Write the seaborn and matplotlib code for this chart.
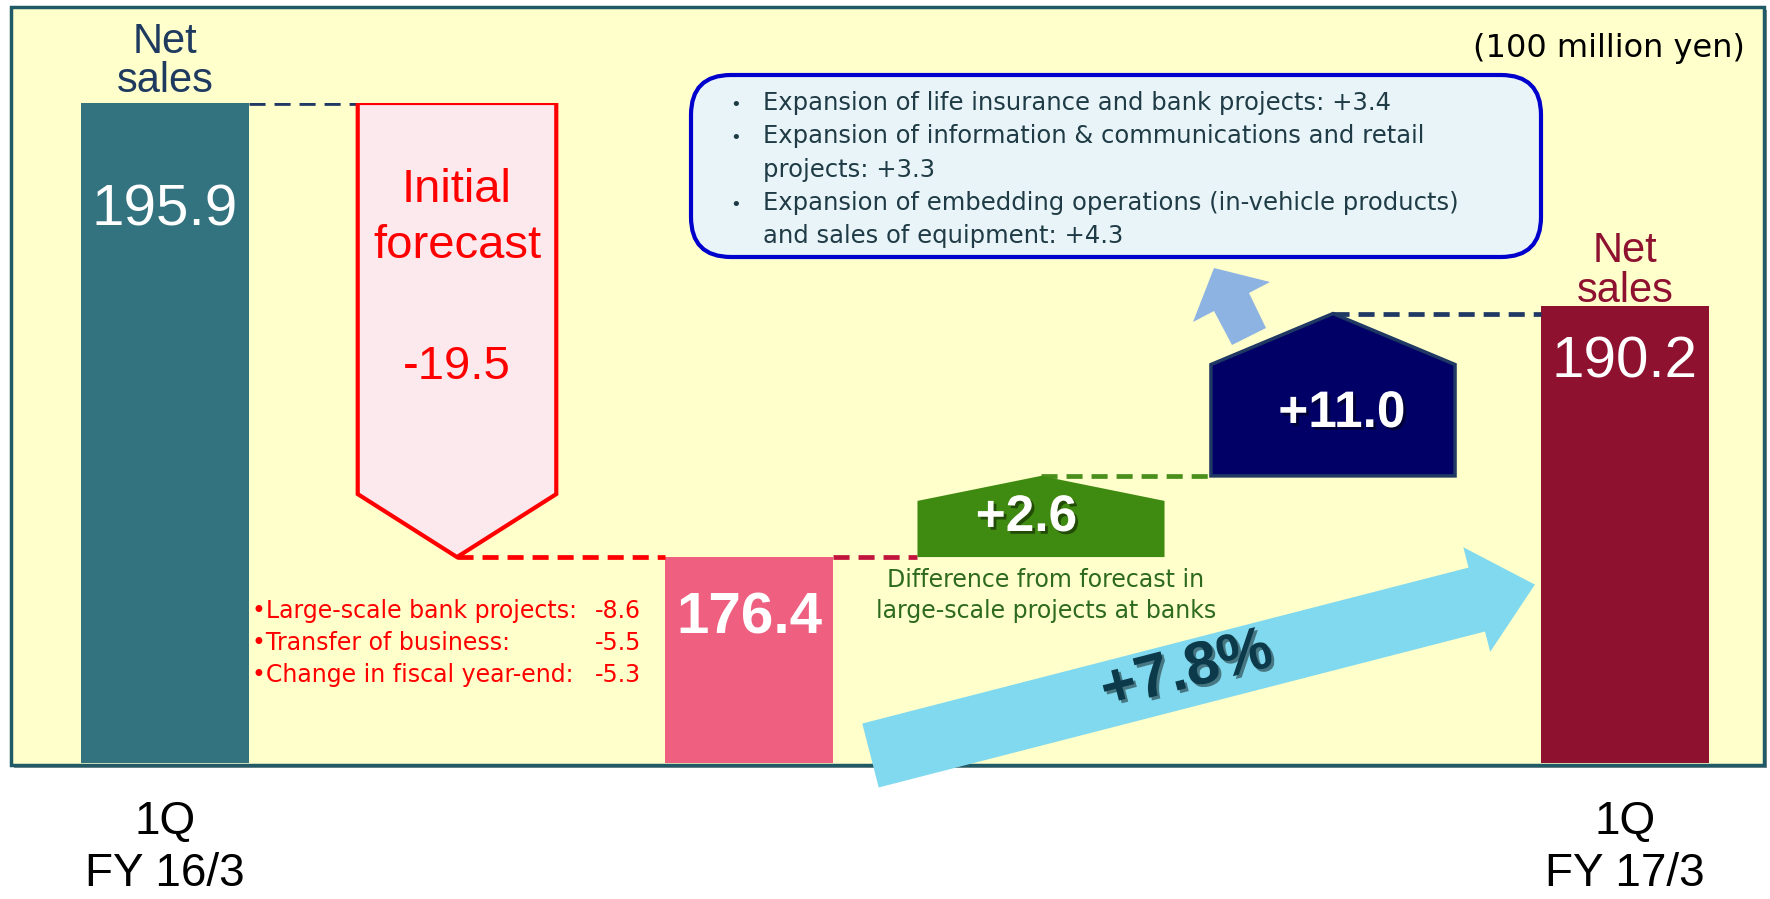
import numpy as np
import pandas as pd
import matplotlib
matplotlib.use("Agg")
import matplotlib.pyplot as plt
import seaborn as sns
from matplotlib.patches import Rectangle, Polygon, FancyBboxPatch
from matplotlib import transforms
import matplotlib.patheffects as pe

# ---------------- data ----------------
steps = ["1Q FY 16/3", "Initial forecast", "Revised", "Bank projects", "Expansion", "1Q FY 17/3"]
total_names = ["1Q FY 16/3", "Revised", "1Q FY 17/3"]
total_values = [195.9, 176.4, 190.2]
delta_names = ["Initial forecast", "Bank projects", "Expansion"]
delta_values = [-19.5, 2.6, 11.0]
period_labels = [["1Q", "FY 16/3"], ["1Q", "FY 17/3"]]
forecast_items = ["Large-scale bank projects:", "Transfer of business:", "Change in fiscal year-end:"]
forecast_values = [-8.6, -5.5, -5.3]
expansion_items = ["Expansion of life insurance and bank projects",
                   "Expansion of information & communications and retail\nprojects",
                   "Expansion of embedding operations (in-vehicle products)\nand sales of equipment"]
expansion_values = [3.4, 3.3, 4.3]
growth_pct = 7.8
unit_label = "(100 million yen)"
bank_note = ["Difference from forecast in", "large-scale projects at banks"]

# ---------------- style ----------------
sns.set_style("white")
plt.rcParams["font.family"] = ["Liberation Sans", "DejaVu Sans"]
WIDE = ["DejaVu Sans"]

W, H = 1770, 899
fig = plt.figure(figsize=(W / 100, H / 100), dpi=100)
fig.patch.set_facecolor("white")

# pixel (top-origin) -> figure transform
PX = transforms.Affine2D().scale(1 / W, -1 / H).translate(0, 1) + fig.transFigure

# panel background
fig.patches.append(Rectangle((14, 10), 1753, 758, transform=PX, facecolor="#7f8c8c",
                             edgecolor="none", zorder=-12))
fig.patches.append(Rectangle((11, 7), 1753, 758, transform=PX, facecolor="#ffffcc",
                             edgecolor="#1f5a66", linewidth=2.5, zorder=-10))

ax = fig.add_axes([11 / W, (H - 763) / H, 1753 / W, 660 / H])
ax.set_facecolor("none")

total_colors = {"1Q FY 16/3": "#33737f", "Revised": "#ee5f80", "1Q FY 17/3": "#8f1130"}
df = pd.DataFrame({"step": total_names, "value": total_values})
bar_w = 0.575
sns.barplot(data=df, x="step", y="value", order=steps, hue="step", palette=total_colors,
            width=bar_w, linewidth=0, saturation=1, legend=False, ax=ax)

# schematic (non-proportional) value axis, as in the original slide
VAL_ANCH = [0.0, 176.4, 179.0, 190.0, 195.9]
POS_ANCH = [0.0, 0.312, 0.435, 0.681, 1.0]
fwd = lambda v: np.interp(v, VAL_ANCH, POS_ANCH)
inv = lambda p: np.interp(p, POS_ANCH, VAL_ANCH)
ax.set_yscale("function", functions=(fwd, inv))
ax.set_ylim(0, 195.9)
ax.set_xlim(-(165 - 11) / 292, 5 + (1764 - 1625) / 292)
ax.axis("off")

BL = transforms.blended_transform_factory(ax.transData, PX)


def to_px_y(v):
    disp = ax.transData.transform((0, v))
    fy = fig.transFigure.inverted().transform(disp)[1]
    return H * (1 - fy)


pos = {s: i for i, s in enumerate(steps)}
levels = [total_values[0]]
for d in delta_values:
    levels.append(levels[-1] + d)

# forecast pentagon (down)
xf = pos["Initial forecast"]
wf = 0.68
top_px, tip_px = to_px_y(levels[0]), to_px_y(levels[1])
sh = tip_px - 63
ax.add_patch(Polygon([(xf - wf / 2, top_px), (xf + wf / 2, top_px), (xf + wf / 2, sh),
                      (xf, tip_px), (xf - wf / 2, sh)], closed=True, transform=BL,
                     facecolor="#fbe9ee", edgecolor="#ff0000", linewidth=3, zorder=3,
                     joinstyle="miter"))

# bank pentagon (up, green)
xb = pos["Bank projects"]
wb = 0.846
base_px, apex_px = to_px_y(levels[1]), to_px_y(levels[2])
sh = apex_px + 25
ax.add_patch(Polygon([(xb - wb / 2, base_px), (xb + wb / 2, base_px), (xb + wb / 2, sh),
                      (xb, apex_px), (xb - wb / 2, sh)], closed=True, transform=BL,
                     facecolor="#3f8a10", edgecolor="none", zorder=3))

# expansion pentagon (up, navy)
xe = pos["Expansion"]
we = 0.836
base_px, apex_px = to_px_y(levels[2]), to_px_y(levels[3])
sh = apex_px + 51
ax.add_patch(Polygon([(xe - we / 2, base_px), (xe + we / 2, base_px), (xe + we / 2, sh),
                      (xe, apex_px), (xe - we / 2, sh)], closed=True, transform=BL,
                     facecolor="#000066", edgecolor="#1f3864", linewidth=2.5, zorder=3))

# connectors
dash = (0, (3.4, 1.9))
lwc = 3.4
ax.plot([0 + bar_w / 2, xf - wf / 2], [levels[0]] * 2, color="#1f3864", lw=lwc, ls=dash, zorder=2)
ax.plot([xf, 2 - bar_w / 2], [levels[1]] * 2, color="#ff0000", lw=lwc, ls=dash, zorder=2)
ax.plot([2 + bar_w / 2, xb - wb / 2], [levels[1]] * 2, color="#c0143c", lw=lwc, ls=dash, zorder=2)
ax.plot([xb, xe - we / 2], [levels[2]] * 2, color="#4a8f1c", lw=lwc, ls=dash, zorder=2)
ax.plot([xe, 5 - bar_w / 2], [levels[3]] * 2, color="#1f3864", lw=lwc, ls=dash, zorder=2)

# big growth arrow
M = np.array([870.5, 755.5])
u = np.array([0.968, -0.249]); u = u / np.linalg.norm(u)
n = np.array([-u[1], u[0]])
shaft, head_s, head_w, L = 33, 626, 54, 686
st = [(0, -shaft), (head_s, -shaft), (head_s, -head_w), (L, 0), (head_s, head_w),
      (head_s, shaft), (0, shaft)]
arrow_pts = [M + s * u + t * n for s, t in st]
ax.add_patch(Polygon(arrow_pts, closed=True, transform=PX, facecolor="#80d9ee",
                     edgecolor="none", zorder=6, clip_on=False))
ang = np.degrees(np.arctan2(-u[1], u[0]))
shadow = [pe.withSimplePatchShadow(offset=(2, -2), shadow_rgbFace="black", alpha=0.45)]
ax.text(1187, 672, f"+{growth_pct:.1f}%", transform=PX, rotation=ang, rotation_mode="anchor",
        ha="center", va="center", fontsize=44, fontweight="bold", color="#0d3a4a",
        zorder=7, path_effects=shadow, clip_on=False)

# small arrow to breakdown box
small = [(1214, 268), (1270, 282), (1249, 293), (1266, 328), (1232, 345), (1214, 311), (1193, 322)]
ax.add_patch(Polygon(small, closed=True, transform=PX, facecolor="#8db3e2",
                     edgecolor="none", zorder=4, clip_on=False))

# breakdown box
ax.add_patch(FancyBboxPatch((703, 87), 826, 158, boxstyle="round,pad=12,rounding_size=40",
                            transform=PX, facecolor="#e8f4f8", edgecolor="#0000cc",
                            linewidth=3, zorder=4, clip_on=False))
box_lines = []
for item, v in zip(expansion_items, expansion_values):
    parts = f"{item}: {v:+.1f}".split("\n")
    for k, p in enumerate(parts):
        box_lines.append((k == 0, p))
box_base = [110, 143, 177, 210, 243]
for (bullet, txt), yb in zip(box_lines, box_base):
    if bullet:
        ax.text(732, yb, "•", transform=PX, ha="left", va="baseline", fontsize=14,
                color="#1f3b45", zorder=5)
    ax.text(763, yb, txt, transform=PX, ha="left", va="baseline", fontsize=17.5,
            family=WIDE, color="#1f3b45", zorder=5)

# texts
common = dict(transform=BL, ha="center", va="baseline", zorder=8, clip_on=False)
ax.text(0, 53, "Net", fontsize=30, color="#1f3a5f", **common)
ax.text(0, 92, "sales", fontsize=30, color="#1f3a5f", **common)
ax.text(0, 226, f"{total_values[0]:.1f}", fontsize=42, color="white", **common)

ax.text(xf, 202, "Initial", fontsize=34, color="#ff0000", **common)
ax.text(xf, 258, "forecast", fontsize=34, color="#ff0000", **common)
ax.text(xf, 379, f"{delta_values[0]:.1f}", fontsize=34, color="#ff0000", **common)

for item, v, yb in zip(forecast_items, forecast_values, [618, 650, 682]):
    ax.text(252, yb, "•" + item, transform=PX, ha="left", va="baseline", fontsize=17,
            family=WIDE, color="#ff0000", zorder=8)
    ax.text(641, yb, f"{v:.1f}", transform=PX, ha="right", va="baseline", fontsize=17,
            family=WIDE, color="#ff0000", zorder=8)

ax.text(2, 634, f"{total_values[1]:.1f}", fontsize=42, fontweight="bold", color="white", **common)
ax.text(xb - 0.05, 531, f"+{delta_values[1]:.1f}", fontsize=37, fontweight="bold", color="white",
        path_effects=shadow, **common)
for t, yb in zip(bank_note, [587, 618]):
    ax.text(1046, yb, t, transform=PX, ha="center", va="baseline", fontsize=17,
            family=WIDE, color="#2d6a1e", zorder=8)
ax.text(xe + 0.03, 427, f"+{delta_values[2]:.1f}", fontsize=37, fontweight="bold", color="white",
        path_effects=shadow, **common)

ax.text(5, 262, "Net", fontsize=30, color="#8f1130", **common)
ax.text(5, 302, "sales", fontsize=30, color="#8f1130", **common)
ax.text(5, 378, f"{total_values[2]:.1f}", fontsize=42, color="white", **common)

ax.text(1745, 57, unit_label, transform=PX, ha="right", va="baseline", fontsize=23,
        family=WIDE, color="black", zorder=8)

for xi, (l1, l2) in zip([0, 5], period_labels):
    ax.text(xi, 834, l1, fontsize=33, color="black", **common)
    ax.text(xi, 886, l2, fontsize=33, color="black", **common)

fig.savefig("out.png", dpi=100, facecolor="white")
